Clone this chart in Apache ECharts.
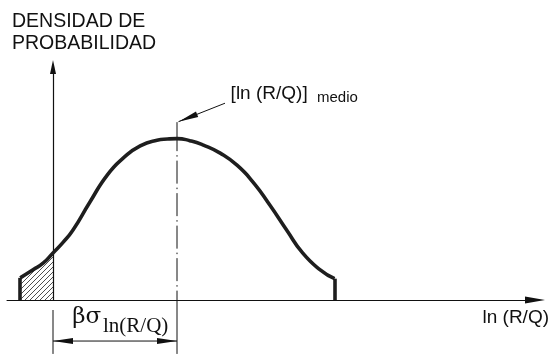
<!DOCTYPE html>
<html>
<head>
    <meta charset="utf-8">
    <title>Densidad de probabilidad</title>
    <script src="https://cdn.jsdelivr.net/npm/echarts@6/dist/echarts.min.js"></script>
    <style>
        html, body { margin: 0; padding: 0; background: #ffffff; }
        #chart { width: 552px; height: 354px; }
    </style>
</head>
<body>
<div id="chart"></div>
<script>
    // curva (x en unidades de sigma, origen en el eje vertical)
    var lnRQ     = [-0.41, -0.25, -0.12, 0, 0.12, 0.25, 0.46, 0.68, 0.88, 1.09, 1.30, 1.43, 1.55,
                    1.71, 1.88, 2.09, 2.30, 2.50, 2.71, 2.92, 3.12, 3.34, 3.52];
    var densidad = [0.055, 0.075, 0.092, 0.117, 0.142, 0.174, 0.243, 0.311, 0.353, 0.383, 0.397, 0.400, 0.401,
                    0.396, 0.385, 0.365, 0.335, 0.293, 0.236, 0.174, 0.117, 0.075, 0.053];

    var rangoX = [-0.575, 6.025];
    var rangoY = [0, 0.579];
    var medio = 1.55;            // [ln (R/Q)] medio
    var topeMedio = 0.442;       // alto de la linea de trazo y punto
    var cotaY = -0.102;          // linea de cota de beta*sigma
    var fondoY = -0.134;         // borde inferior del dibujo

    var curva = lnRQ.map(function (x, i) { return [x, densidad[i]]; });
    var cola = curva.filter(function (d) { return d[0] <= 0; });
    var ini = curva[0], fin = curva[curva.length - 1];

    // rayado para la cola izquierda
    function rayado() {
        var c = document.createElement('canvas');
        c.width = 5; c.height = 5;
        var g = c.getContext('2d');
        g.strokeStyle = '#222';
        g.lineWidth = 0.8;
        g.beginPath();
        g.moveTo(-1, 6); g.lineTo(6, -1);
        g.moveTo(-1, 1); g.lineTo(1, -1);
        g.moveTo(4, 6); g.lineTo(6, 4);
        g.stroke();
        return c;
    }

    var chart = echarts.init(document.getElementById('chart'));

    var option = {
        animation: false,
        grid: {left: 7, right: 17, top: 67, bottom: 54},
        xAxis: {
            type: 'value', min: rangoX[0], max: rangoX[1],
            axisLine: {show: true, onZero: true, symbol: ['none', 'triangle'], symbolSize: [7, 20],
                lineStyle: {color: '#111', width: 1}},
            axisTick: {show: false}, axisLabel: {show: false}, splitLine: {show: false}
        },
        yAxis: {
            type: 'value', min: rangoY[0], max: rangoY[1],
            axisLine: {show: true, onZero: true, symbol: ['none', 'triangle'], symbolSize: [6, 14],
                lineStyle: {color: '#111', width: 1.2}},
            axisTick: {show: false}, axisLabel: {show: false}, splitLine: {show: false}
        },
        series: [
            {
                type: 'line', data: cola, smooth: 0.55, showSymbol: false, silent: true, z: 1,
                lineStyle: {width: 0},
                areaStyle: {color: {image: rayado(), repeat: 'repeat'}, opacity: 1}
            },
            {
                type: 'line', data: curva, smooth: 0.55, showSymbol: false, silent: true, z: 3,
                lineStyle: {color: '#1e1e1e', width: 3.6},
                markLine: {
                    silent: true, symbol: 'none', label: {show: false},
                    lineStyle: {color: '#1e1e1e', width: 3.6, type: 'solid'},
                    data: [
                        [{coord: [ini[0], 0]}, {coord: [ini[0], ini[1]]}],
                        [{coord: [fin[0], 0]}, {coord: [fin[0], fin[1]]}]
                    ]
                }
            }
        ]
    };
    chart.setOption(option);

    function p(x, y) { return chart.convertToPixel({gridIndex: 0}, [x, y]); }

    function linea(a, b, w, dash) {
        return {type: 'line', silent: true, shape: {x1: a[0], y1: a[1], x2: b[0], y2: b[1]},
            style: {stroke: '#111', lineWidth: w, lineDash: dash || null}};
    }

    function flecha(tip, from, len, w) {
        var dx = tip[0] - from[0], dy = tip[1] - from[1];
        var d = Math.sqrt(dx * dx + dy * dy), ux = dx / d, uy = dy / d;
        var bx = tip[0] - ux * len, by = tip[1] - uy * len;
        return {type: 'polygon', silent: true,
            shape: {points: [tip, [bx - uy * w / 2, by + ux * w / 2], [bx + uy * w / 2, by - ux * w / 2]]},
            style: {fill: '#111'}};
    }

    function texto(t, pt, size, fam, align, base) {
        return {type: 'text', silent: true, x: pt[0], y: pt[1] - base * size,
            style: {text: t, font: size + 'px ' + fam, fill: '#111', align: align || 'left', verticalAlign: 'middle'}};
    }

    var sans = '"Liberation Sans", Arial, sans-serif';
    var serif = '"Liberation Serif", "Times New Roman", serif';
    var griego = '"DejaVu Serif", serif';

    var a0 = p(0, 0), m0 = p(medio, 0);
    var mTop = p(medio, topeMedio), mBot = p(medio, fondoY);
    var c0 = p(0, cotaY), c1 = p(medio, cotaY);
    var lider = p(2.15, 0.489);
    var tipLider = [mTop[0] + 1.5, mTop[1] - 0.5];
    var finEje = p(rangoX[1], 0);

    var graficos = [
        // titulo del eje vertical
        {type: 'text', silent: true, x: 12, y: 10.3,
            style: {text: 'DENSIDAD DE\nPROBABILIDAD', font: '19.5px ' + sans, fill: '#111',
                lineHeight: 22.4, align: 'left', verticalAlign: 'top'}},
        // linea del valor medio
        linea(mTop, [mTop[0], mTop[1] + 29], 1),
        linea([mTop[0], mTop[1] + 33], m0, 1, [1.5, 4, 23, 4]),
        linea(m0, mBot, 1),
        // lider y etiqueta del medio
        linea(lider, tipLider, 1),
        flecha(tipLider, lider, 20, 6),
        texto('[ln (R/Q)]', p(2.22, 0.495), 19, sans, 'left', 0.3465),
        texto('medio', p(3.3, 0.489), 15, sans, 'left', 0.3465),
        // cota beta sigma
        linea([a0[0], a0[1] + 10], [a0[0], mBot[1]], 1),
        linea(c0, c1, 1),
        flecha(c0, c1, 20, 6),
        flecha(c1, c0, 20, 6),
        texto('βσ', p(0.24, -0.062), 23, griego, 'left', 0.33),
        texto('ln(R/Q)', p(0.625, -0.083), 21, serif, 'left', 0.3375),
        // nombre del eje horizontal
        texto('ln (R/Q)', [finEje[0] + 14, finEje[1] + 24.3], 19, sans, 'right', 0.3465)
    ];

    chart.setOption({graphic: graficos});

    window.onresize = function () {
        chart.resize();
    };
</script>
</body>
</html>
